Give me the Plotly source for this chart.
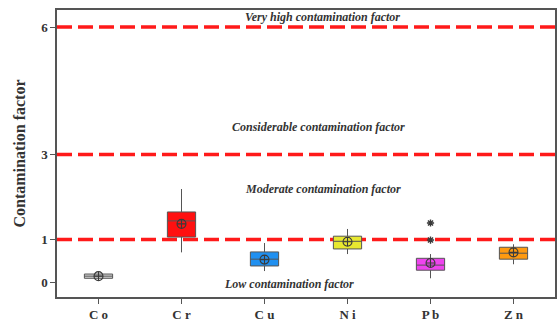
import plotly.graph_objects as go

categories = ["Co", "Cr", "Cu", "Ni", "Pb", "Zn"]
q1 = [0.09, 1.06, 0.38, 0.78, 0.28, 0.54]
median = [0.14, 1.44, 0.54, 0.96, 0.40, 0.68]
q3 = [0.19, 1.65, 0.71, 1.08, 0.56, 0.82]
lower = [0.08, 0.70, 0.26, 0.66, 0.09, 0.42]
upper = [0.20, 2.19, 0.92, 1.25, 0.66, 0.89]
means = [0.14, 1.37, 0.53, 0.95, 0.45, 0.70]
colors = ["#d4d4d4", "#ff1010", "#2090f0", "#e8e830", "#ee44ee", "#ff9a10"]
outlier_cat = ["Pb", "Pb"]
outlier_val = [1.39, 0.99]

thresholds = [1, 3, 6]
zone_labels = ["Low contamination factor", "Moderate contamination factor",
               "Considerable contamination factor", "Very high contamination factor"]
zone_label_y = [-0.05, 2.19, 3.65, 6.24]
zone_label_x = [2.3, 2.7, 2.65, 2.7]

yticks = [0, 1, 3, 6]

serif = "Liberation Serif"

fig = go.Figure()

for i, c in enumerate(categories):
    fig.add_trace(go.Box(
        x=[c], q1=[q1[i]], median=[median[i]], q3=[q3[i]],
        lowerfence=[lower[i]], upperfence=[upper[i]],
        fillcolor=colors[i], line=dict(color="#555555", width=1),
        width=0.34, whiskerwidth=0, boxpoints=False, showlegend=False,
    ))

fig.add_trace(go.Scatter(
    x=categories, y=means, mode="markers", showlegend=False,
    marker=dict(symbol="circle-cross-open", size=9, color="#3a3a3a",
                line=dict(width=1.1, color="#3a3a3a")),
))
fig.add_trace(go.Scatter(
    x=outlier_cat, y=outlier_val, mode="markers", showlegend=False,
    marker=dict(symbol="asterisk-open", size=6, color="#3a3a3a",
                line=dict(width=1.4, color="#3a3a3a")),
))

for t in thresholds:
    fig.add_shape(type="line", xref="paper", x0=0, x1=1, yref="y", y0=t, y1=t,
                  line=dict(color="#ff1a1a", width=3.5, dash="15px,6px"),
                  layer="below")

for lab, ly, lx in zip(zone_labels, zone_label_y, zone_label_x):
    fig.add_annotation(x=lx, y=ly, xref="x", yref="y", text="<b><i>" + lab + "</i></b>",
                       showarrow=False, font=dict(family=serif, size=12, color="#333333"))

fig.update_layout(
    width=558, height=325,
    margin=dict(l=57, r=1, t=10, b=28),
    paper_bgcolor="white", plot_bgcolor="white",
    showlegend=False,
)
fig.update_xaxes(
    type="category", categoryorder="array", categoryarray=categories,
    range=[-0.5, 5.5],
    tickmode="array", tickvals=categories,
    ticktext=["<b>" + " ".join(c) + "</b>" for c in categories],
    ticks="outside", ticklen=5, tickcolor="#555", tickwidth=1.2,
    showline=True, linecolor="#555", linewidth=1.5, mirror=True,
    showgrid=False, zeroline=False,
    tickfont=dict(family=serif, size=13, color="#333"),
)
fig.update_yaxes(
    range=[-0.35, 6.4],
    tickmode="array", tickvals=yticks, ticktext=["<b>%d</b>" % v for v in yticks],
    ticks="outside", ticklen=5, tickcolor="#555", tickwidth=1.2,
    showline=True, linecolor="#555", linewidth=1.5, mirror=True,
    showgrid=False, zeroline=False,
    tickfont=dict(family=serif, size=13, color="#333"),
    title=dict(text="<b>Contamination factor</b>", font=dict(family=serif, size=16, color="#333"),
               standoff=12),
)

fig.write_html("out.html")
